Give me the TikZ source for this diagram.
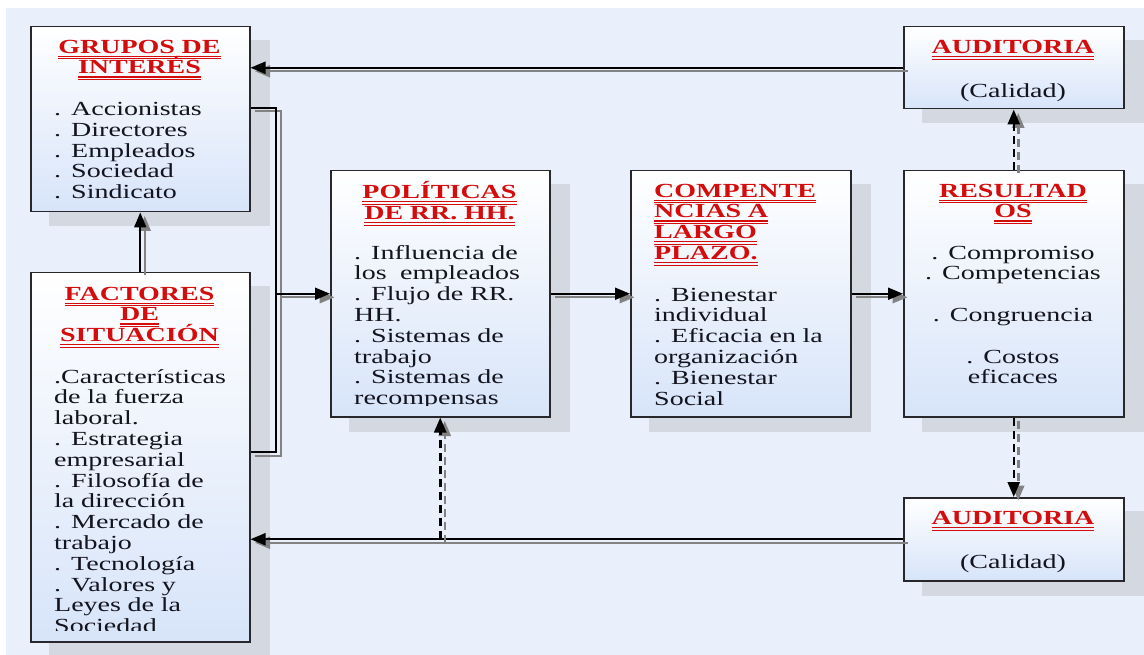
\documentclass[tikz,border=0pt]{standalone}
\usepackage{fontspec}
\setmainfont{Liberation Serif}[FakeStretch=1.40]
\usetikzlibrary{arrows.meta,backgrounds}

\definecolor{pagebg}{RGB}{234,240,251}
\definecolor{shadegray}{RGB}{212,216,224}
\definecolor{boxblue}{RGB}{215,228,249}
\definecolor{boxline}{RGB}{40,40,44}
\definecolor{titlered}{RGB}{212,12,12}
\definecolor{linkgray}{RGB}{130,130,130}
\definecolor{inktext}{RGB}{20,20,30}

\newcommand{\bodyfont}{\fontsize{20}{20.8}\selectfont\lineskiplimit=-100pt\lineskip=0pt\relax}
% bold red heading line with a double underline
\newsavebox{\ttlbox}
\newcommand{\ttl}[1]{\leavevmode{\bfseries\color{titlered}\sbox{\ttlbox}{#1}%
  \rlap{\rule[-3.6pt]{\wd\ttlbox}{1.1pt}}\rlap{\rule[-5.8pt]{\wd\ttlbox}{0.8pt}}\usebox{\ttlbox}}}
% each connector is drawn twice: a grey copy offset down-right, then the black line
\newcommand{\pairlink}[2]{\draw[lnkshade,#1] #2; \draw[lnk,#1] #2;}

\begin{document}
\begin{tikzpicture}[x=1pt,y=-1pt,
  box/.style={draw=boxline, line width=1.5pt, top color=white, bottom color=boxblue,
    inner sep=0pt, anchor=north west},
  ttlnode/.style={inner sep=0pt, font=\bodyfont, text width=215pt, align=center, anchor=north, text=inktext},
  ttlleft/.style={inner sep=0pt, font=\bodyfont, text width=195pt, align=left, anchor=north west, text=inktext},
  bodynode/.style={inner sep=0pt, font=\bodyfont, text width=195pt, align=left, anchor=north west, text=inktext},
  bodycenter/.style={inner sep=0pt, font=\bodyfont, text width=215pt, align=center, anchor=north, text=inktext},
  lnk/.style={draw=black, line width=2pt, line join=miter},
  lnkshade/.style={draw=linkgray, line width=2pt, line join=miter, transform canvas={xshift=4.5pt,yshift=-3.5pt}},
  tip/.style={-{Triangle[length=15pt,width=12pt]}},
  dashlnk/.style={dash pattern=on 8pt off 5pt, line width=2.5pt}
]
\useasboundingbox (0,0) rectangle (1144,655);

% boxes
\node[box, minimum width=219pt, minimum height=185pt] (grupos) at (30,26) {};
\node[box, minimum width=219pt, minimum height=369pt] (factores) at (30,272) {};
\node[box, minimum width=219pt, minimum height=246pt] (politicas) at (330,170) {};
\node[box, minimum width=220pt, minimum height=246pt] (competencias) at (630,170) {};
\node[box, minimum width=220pt, minimum height=246pt] (resultados) at (903,170) {};
\node[box, minimum width=220pt, minimum height=82pt] (audtop) at (903,26) {};
\node[box, minimum width=220pt, minimum height=83pt] (audbot) at (903,497) {};

% page background and solid box shadows
\begin{pgfonlayer}{background}
  \fill[pagebg] (6,8) rectangle (1144,655);
  \foreach \b in {grupos,factores,politicas,competencias,resultados,audtop,audbot}
    \fill[shadegray] ([shift={(19pt,-14pt)}]\b.north west) rectangle ([shift={(19pt,-14pt)}]\b.south east);
\end{pgfonlayer}

% connectors
\coordinate (brtop) at (276,108);
\coordinate (brbot) at (276,452);
\pairlink{tip}{(audtop.west) -- (audtop.west -| grupos.east)}
\pairlink{tip}{(factores.north) -- (grupos.south)}
\pairlink{}{(brtop -| grupos.east) -- (brtop) -- (brbot) -- (brbot -| factores.east)}
\pairlink{tip}{(brtop |- politicas.west) -- (politicas.west)}
\pairlink{tip}{(politicas.east) -- (competencias.west)}
\pairlink{tip}{(competencias.east) -- (resultados.west)}
\pairlink{tip,dashlnk}{(resultados.north) -- (audtop.south)}
\pairlink{tip,dashlnk}{(resultados.south) -- (audbot.north)}
\pairlink{tip}{(audbot.west) -- (audbot.west -| factores.east)}
\pairlink{tip,dashlnk}{(politicas.south |- audbot.west) -- (politicas.south)}

% texts
\node[ttlnode] (grupos-t) at (139.5,38.4) {\strut\ttl{GRUPOS DE}\\\ttl{INTERÉS}};
\node[bodynode] (grupos-b) at (54,100.8) {\strut. Accionistas\\. Directores\\. Empleados\\. Sociedad\\. Sindicato};

\node[ttlnode] (factores-t) at (139.5,285.4) {\strut\ttl{FACTORES}\\\ttl{DE}\\\ttl{SITUACIÓN}};
\begin{scope}
  \clip (factores.north west) rectangle ([yshift=12pt]factores.south east);
  \node[bodynode] (factores-b) at (54,368.4) {\strut.Características\\de la fuerza\\laboral.\\. Estrategia\\empresarial\\. Filosofía de\\la dirección\\. Mercado de\\trabajo\\. Tecnología\\. Valores y\\Leyes de la\\Sociedad};
\end{scope}

\node[ttlnode] (politicas-t) at (439.5,181.4) {\strut\ttl{POLÍTICAS}\\\ttl{DE RR. HH.}};
\begin{scope}
  \clip (politicas.north west) rectangle ([yshift=12.5pt]politicas.south east);
  \node[bodynode] (politicas-b) at (354,244.4) {\strut. Influencia de\\los\ \ empleados\\. Flujo de RR.\\HH.\\. Sistemas de\\trabajo\\. Sistemas de\\recompensas};
\end{scope}

\node[ttlleft] (competencias-t) at (654,182.4) {\strut\ttl{COMPENTE}\\\ttl{NCIAS A}\\\ttl{LARGO}\\\ttl{PLAZO.}};
\node[bodynode] (competencias-b) at (654,286.4) {\strut. Bienestar\\individual\\. Eficacia en la\\organización\\. Bienestar\\Social};

\node[ttlnode] (resultados-t) at (1013,182.4) {\strut\ttl{RESULTAD}\\\ttl{OS}};
\node[bodycenter] (resultados-b) at (1013,244.4) {\strut. Compromiso\\. Competencias\\[20.8pt]. Congruencia\\[20.8pt]. Costos\\eficaces};

\node[ttlnode] (audtop-t) at (1013,38.9) {\strut\ttl{AUDITORIA}\\[23pt](Calidad)};
\node[ttlnode] (audbot-t) at (1013,509.9) {\strut\ttl{AUDITORIA}\\[23pt](Calidad)};
\end{tikzpicture}
\end{document}
